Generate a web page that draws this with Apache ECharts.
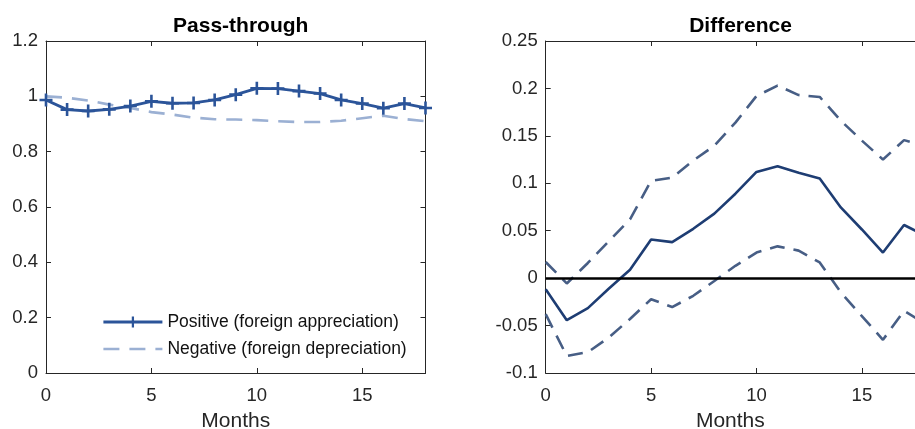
<!DOCTYPE html>
<html>
<head>
<meta charset="utf-8">
<script src="https://cdn.jsdelivr.net/npm/echarts@6/dist/echarts.min.js"></script>
<style>html,body{margin:0;padding:0;background:#fff;}#c{width:915px;height:429px;}</style>
</head>
<body>
<div id="c"></div>
<script>
const months = [0,1,2,3,4,5,6,7,8,9,10,11,12,13,14,15,16,17,18];
const positive = [0.987,0.952,0.947,0.953,0.965,0.982,0.975,0.976,0.987,1.006,1.029,1.028,1.019,1.010,0.987,0.974,0.957,0.974,0.958];
const negative = [1.000,0.995,0.985,0.970,0.958,0.943,0.934,0.923,0.917,0.916,0.914,0.910,0.907,0.907,0.912,0.921,0.930,0.918,0.910];
const difference = [-0.0116,-0.0443,-0.0316,-0.011,0.0088,0.0408,0.038,0.052,0.068,0.089,0.112,0.118,0.111,0.105,0.0745,0.0513,0.027,0.056,0.045];
const upperBand = [0.017,-0.0056,0.016,0.039,0.062,0.1026,0.106,0.124,0.1395,0.164,0.192,0.203,0.193,0.191,0.166,0.145,0.125,0.1455,0.139];
const lowerBand = [-0.038,-0.082,-0.078,-0.0625,-0.043,-0.0222,-0.0305,-0.0186,-0.003,0.013,0.027,0.0335,0.029,0.0165,-0.015,-0.040,-0.065,-0.0344,-0.048];
const leftTicksY = {min:0, max:1.2, interval:0.2};
const rightTicksY = {min:-0.1, max:0.25, interval:0.05};
const leftX = {min:0, max:18, interval:5};
const rightX = {min:0, max:17.52, interval:5};   // right panel is cut off at the page edge
const titles = ['Pass-through','Difference'];
const xName = 'Months';
const legendNames = ['Positive (foreign appreciation)','Negative (foreign depreciation)'];

const FONT = 'Liberation Sans, Arial, Helvetica, sans-serif';
const AX = '#262626';
const pair = (ys) => months.map((m,i)=>[m, ys[i]]);

function xAxes(gi, r){
  return [{
    type:'value', gridIndex:gi, min:r.min, max:r.max, interval:r.interval,
    name:xName, nameLocation:'middle', nameGap:38,
    nameTextStyle:{fontFamily:FONT, fontSize:21, color:AX},
    axisLine:{show:true, onZero:false, lineStyle:{color:AX, width:1}},
    axisTick:{show:true, inside:true, length:5, lineStyle:{color:AX}},
    axisLabel:{fontFamily:FONT, fontSize:18.5, color:AX, margin:13,
      formatter:(v)=> (v%5===0 ? String(v) : '')},
    splitLine:{show:false}
  },{
    type:'value', gridIndex:gi, position:'top', min:r.min, max:r.max, interval:r.interval,
    axisLine:{show:true, onZero:false, lineStyle:{color:AX, width:1}},
    axisTick:{show:true, inside:true, length:5, lineStyle:{color:AX}},
    axisLabel:{show:false}, splitLine:{show:false}
  }];
}
function yAxes(gi, r, showRight){
  return [{
    type:'value', gridIndex:gi, min:r.min, max:r.max, interval:r.interval,
    axisLine:{show:true, onZero:false, lineStyle:{color:AX, width:1}},
    axisTick:{show:true, inside:true, length:5, lineStyle:{color:AX}},
    axisLabel:{fontFamily:FONT, fontSize:18.5, color:AX, margin:8},
    splitLine:{show:false}
  },{
    type:'value', gridIndex:gi, position:'right', min:r.min, max:r.max, interval:r.interval, show:showRight,
    axisLine:{show:true, onZero:false, lineStyle:{color:AX, width:1}},
    axisTick:{show:true, inside:true, length:5, lineStyle:{color:AX}},
    axisLabel:{show:false}, splitLine:{show:false}
  }];
}

const plus = 'path://M4,0H6V4H10V6H6V10H4V6H0V4H4Z';

const option = {
  animation:false,
  backgroundColor:'#fff',
  title:[
    {text:titles[0], left:235.7, top:11, textAlign:'center', textStyle:{fontFamily:FONT, fontSize:21, fontWeight:'bold', color:'#000'}},
    {text:titles[1], left:735.5, top:11, textAlign:'center', textStyle:{fontFamily:FONT, fontSize:21, fontWeight:'bold', color:'#000'}}
  ],
  grid:[
    {left:46, top:41, width:379.5, height:332, containLabel:false, outerBoundsMode:'none'},
    {left:545.7, top:41, right:0, height:332, containLabel:false, outerBoundsMode:'none'}
  ],
  xAxis:[...xAxes(0, leftX), ...xAxes(1, rightX)],
  yAxis:[...yAxes(0, leftTicksY, true), ...yAxes(1, rightTicksY, false)],
  legend:{
    left:97, top:308, orient:'vertical', itemWidth:59, itemHeight:14, itemGap:9,
    textStyle:{fontFamily:FONT, fontSize:17.5, color:'#111'},
    data:[
      {name:legendNames[0], lineStyle:{width:2.8}},
      {name:legendNames[1], itemStyle:{opacity:0, borderWidth:0}, lineStyle:{width:2.6}}
    ],
    selectedMode:false
  },
  series:[
    {name:legendNames[1], type:'line', xAxisIndex:0, yAxisIndex:0, data:pair(negative),
      symbol:'none', smooth:false, lineStyle:{color:'#9BB0D3', width:2.6, type:[16,10]}, itemStyle:{color:'#9BB0D3'}, z:2},
    {name:legendNames[0], type:'line', xAxisIndex:0, yAxisIndex:0, data:pair(positive),
      symbol:plus, symbolSize:13, showAllSymbol:true, lineStyle:{color:'#2B5499', width:2.8}, itemStyle:{color:'#2B5499'}, z:3},
    {name:'zero', type:'line', xAxisIndex:2, yAxisIndex:2, data:[], symbol:'none', z:1,
      markLine:{silent:true, symbol:'none', label:{show:false}, lineStyle:{color:'#000', width:2.6, type:'solid'}, data:[{yAxis:0}]}},
    {name:'upper', type:'line', xAxisIndex:2, yAxisIndex:2, data:pair(upperBand), symbol:'none', clip:true,
      lineStyle:{color:'#475E85', width:2.6, type:[15,9]}, z:2},
    {name:'lower', type:'line', xAxisIndex:2, yAxisIndex:2, data:pair(lowerBand), symbol:'none', clip:true,
      lineStyle:{color:'#475E85', width:2.6, type:[15,9]}, z:2},
    {name:'difference', type:'line', xAxisIndex:2, yAxisIndex:2, data:pair(difference), symbol:'none', clip:true,
      lineStyle:{color:'#1E3D73', width:2.6}, z:3}
  ]
};
const chart = echarts.init(document.getElementById('c'), null, {renderer:'canvas'});
chart.setOption(option);
</script>
</body>
</html>
